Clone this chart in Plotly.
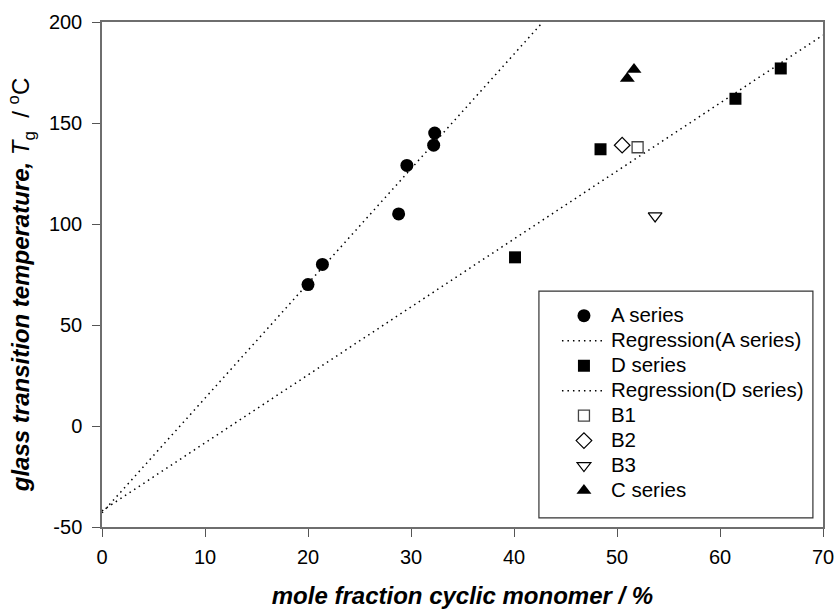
import plotly.graph_objects as go

# ---- data ----
a_x = [20.0, 21.4, 28.8, 29.6, 32.2, 32.3]
a_y = [70, 80, 105, 129, 139, 145]
regA_x = [0.0, 42.8]
regA_y = [-43, 200]
d_x = [40.1, 48.4, 61.5, 65.9]
d_y = [83.5, 137, 162, 177]
regD_x = [0.0, 70.0]
regD_y = [-42, 193.5]
b1_x, b1_y = [52.0], [138]
b2_x, b2_y = [50.5], [139]
b3_x, b3_y = [53.7], [104]
c_x = [51.0, 51.65]
c_y = [172, 176.5]

x_ticks = [0, 10, 20, 30, 40, 50, 60, 70]
x_ticktext = ["0", "10", "20", "30", "40", "50", "60", "70"]
y_ticks = [-50, 0, 50, 100, 150, 200]
y_ticktext = ["-50", "0", "50", "100", "150", "200"]

FONT = "Liberation Sans, Arial, sans-serif"
LEG = '<span style="font-size:20.5px">{}</span>'

fig = go.Figure()
fig.add_trace(go.Scatter(x=a_x, y=a_y, mode="markers", name=LEG.format("A series"),
                         marker=dict(symbol="circle", size=13, color="black")))
fig.add_trace(go.Scatter(x=regA_x, y=regA_y, mode="lines", name=LEG.format("Regression(A series)"),
                         line=dict(color="black", width=1.5, dash="1.5px,4px")))
fig.add_trace(go.Scatter(x=d_x, y=d_y, mode="markers", name=LEG.format("D series"),
                         marker=dict(symbol="square", size=12, color="black")))
fig.add_trace(go.Scatter(x=regD_x, y=regD_y, mode="lines", name=LEG.format("Regression(D series)"),
                         line=dict(color="black", width=1.5, dash="1.5px,4px")))
fig.add_trace(go.Scatter(x=b1_x, y=b1_y, mode="markers", name=LEG.format("B1"),
                         marker=dict(symbol="square-open", size=11, color="#444",
                                     line=dict(width=1.3))))
fig.add_trace(go.Scatter(x=b2_x, y=b2_y, mode="markers", name=LEG.format("B2"),
                         marker=dict(symbol="diamond-open", size=12, color="black",
                                     line=dict(width=1.2))))
fig.add_trace(go.Scatter(x=b3_x, y=b3_y, mode="markers", name=LEG.format("B3"),
                         marker=dict(symbol="triangle-down-open", size=12, color="black",
                                     line=dict(width=1.2))))
fig.add_trace(go.Scatter(x=c_x, y=c_y, mode="markers", name=LEG.format("C series"),
                         marker=dict(symbol="triangle-up", size=13, color="black")))

axis_common = dict(showgrid=False, zeroline=False, showline=True, mirror=True,
                   linecolor="#6e6e6e", linewidth=1.5, ticks="outside", ticklen=8,
                   tickwidth=1.2, tickcolor="#555", automargin=False,
                   tickfont=dict(family=FONT, size=20, color="black"))

fig.update_layout(
    width=835, height=609, autosize=False,
    margin=dict(l=102, r=12, t=22, b=82, autoexpand=False),
    paper_bgcolor="white", plot_bgcolor="white",
    font=dict(family=FONT, color="black"),
    xaxis=dict(range=[0, 70], tickvals=x_ticks, ticktext=x_ticktext, ticklabelstandoff=3,
               **axis_common,
               title=dict(text="<b><i>mole fraction cyclic monomer / %</i></b>",
                          font=dict(family=FONT, size=24, color="black"), standoff=33)),
    yaxis=dict(range=[-50, 200], tickvals=y_ticks, ticktext=y_ticktext, ticklabelstandoff=6,
               **axis_common,
               title=dict(text="<b><i>glass transition temperature,</i></b> <i>T</i><sub>g</sub>  / <sup>o</sup>C&nbsp;&nbsp;&nbsp;",
                          font=dict(family=FONT, size=24, color="black"), standoff=12)),
    legend=dict(x=0.631, y=0.453, xanchor="left", yanchor="top",
                bgcolor="rgba(0,0,0,0)", borderwidth=0, itemwidth=44,
                font=dict(family=FONT, size=16.9, color="black"),
                tracegroupgap=0),
    showlegend=True,
)

fig.add_shape(type="rect", xref="paper", yref="paper",
              x0=0.606, x1=0.986, y0=0.018, y1=0.467,
              line=dict(color="#333", width=1.2), fillcolor="rgba(0,0,0,0)", layer="above")

fig.write_html("out.html")
